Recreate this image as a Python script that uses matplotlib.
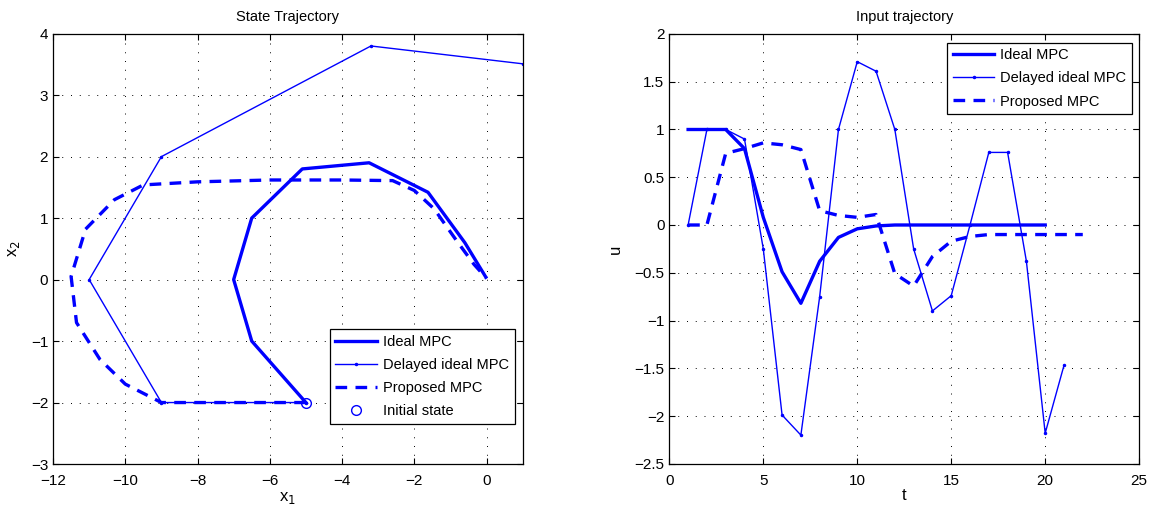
import matplotlib
matplotlib.use("Agg")
import matplotlib.pyplot as plt
from matplotlib.ticker import MultipleLocator, FuncFormatter

plt.rcParams["font.family"] = ["Liberation Sans", "DejaVu Sans"]
plt.rcParams["font.size"] = 11

BLUE = (0, 0, 1)

# ---- State trajectory data (x1, x2) ----
ideal_x1 = [-5.0, -6.5, -7.0, -6.5, -5.1, -3.25, -1.62, -0.6, -0.02]
ideal_x2 = [-2.0, -1.0, 0.0, 1.0, 1.8, 1.9, 1.42, 0.6, 0.04]

delayed_x1 = [-5.0, -9.0, -11.0, -9.0, -3.2, 1.0]
delayed_x2 = [-2.0, -2.0, 0.0, 2.0, 3.8, 3.51]

proposed_x1 = [-5.0, -9.0, -10.0, -10.7, -11.35, -11.5, -11.1, -10.3, -9.5,
               -8.0, -6.0, -4.0, -2.6, -2.0, -1.45, -0.85, -0.35, 0.0]
proposed_x2 = [-2.0, -2.0, -1.7, -1.3, -0.7, 0.05, 0.82, 1.3, 1.54,
               1.59, 1.62, 1.62, 1.61, 1.45, 1.15, 0.65, 0.25, 0.02]

init_x1 = [-5.0]
init_x2 = [-2.0]

# ---- Input trajectory data (t, u) ----
t_ideal = list(range(1, 21))
u_ideal = [1.0, 1.0, 1.0, 0.8, 0.08, -0.49, -0.82, -0.38, -0.13, -0.04,
           -0.01, 0.0, 0.0, 0.0, 0.0, 0.0, 0.0, 0.0, 0.0, 0.0]

t_delayed = list(range(1, 22))
u_delayed = [0.0, 1.0, 1.0, 0.9, -0.25, -1.99, -2.2, -0.75, 1.0, 1.71,
             1.61, 1.0, -0.25, -0.9, -0.74, 0.0, 0.76, 0.76, -0.38, -2.18,
             -1.47]

t_proposed = list(range(1, 23))
u_proposed = [0.0, 0.0, 0.75, 0.8, 0.86, 0.84, 0.79, 0.15, 0.1, 0.08,
              0.11, -0.51, -0.64, -0.33, -0.17, -0.12, -0.1, -0.1, -0.1,
              -0.1, -0.1, -0.1]

THICK = 2.4
DASH = (0, (3.5, 2.5))

fig = plt.figure(figsize=(11.53, 5.15), dpi=100)
ax1 = fig.add_axes([0.046, 0.099, 0.4073, 0.8356])
ax2 = fig.add_axes([0.5805, 0.0995, 0.4075, 0.8345])

short_fmt = FuncFormatter(lambda v, p: ("%g" % v).replace("-", "\u2212"))


def style_axes(ax):
    ax.grid(True, linestyle=(0, (1, 8)), color="black", linewidth=0.7)
    ax.tick_params(direction="in", top=True, right=True, length=4,
                   width=0.8, labelsize=11)
    ax.tick_params(axis="x", pad=7.5)
    for s in ax.spines.values():
        s.set_linewidth(0.9)
    ax.set_axisbelow(True)
    ax.xaxis.set_major_formatter(short_fmt)
    ax.yaxis.set_major_formatter(short_fmt)


def style_legend(leg):
    leg.get_frame().set_linewidth(0.9)


legend_kw = dict(fontsize=10.5, handlelength=2.85, handletextpad=0.4,
                 borderpad=0.4, labelspacing=0.62, fancybox=False,
                 framealpha=1, edgecolor="black", borderaxespad=0)

# State trajectory
ax1.plot(ideal_x1, ideal_x2, color=BLUE, lw=THICK, label="Ideal MPC")
ax1.plot(delayed_x1, delayed_x2, color=BLUE, lw=1.0, marker=".",
         markersize=3, label="Delayed ideal MPC")
ax1.plot(proposed_x1, proposed_x2, color=BLUE, lw=THICK,
         linestyle=DASH, label="Proposed MPC")
ax1.plot(init_x1, init_x2, linestyle="none", marker="o", markersize=7,
         markerfacecolor="none", markeredgecolor=BLUE, markeredgewidth=1.0,
         label="Initial state")
ax1.set_xlim(-12, 1)
ax1.set_ylim(-3, 4)
ax1.xaxis.set_major_locator(MultipleLocator(2))
ax1.yaxis.set_major_locator(MultipleLocator(1))
ax1.set_title("State Trajectory", fontsize=10.5, pad=9)
ax1.set_xlabel("x$_1$", fontsize=12, labelpad=1)
ax1.set_ylabel("x$_2$", fontsize=12, labelpad=6)
style_axes(ax1)
leg1 = ax1.legend(loc="lower right", bbox_to_anchor=(0.983, 0.093),
                  **legend_kw)
style_legend(leg1)

# Input trajectory
ax2.plot(t_ideal, u_ideal, color=BLUE, lw=THICK, label="Ideal MPC")
ax2.plot(t_delayed, u_delayed, color=BLUE, lw=1.0, marker=".",
         markersize=3, label="Delayed ideal MPC")
ax2.plot(t_proposed, u_proposed, color=BLUE, lw=THICK,
         linestyle=DASH, label="Proposed MPC")
ax2.set_xlim(0, 25)
ax2.set_ylim(-2.5, 2)
ax2.xaxis.set_major_locator(MultipleLocator(5))
ax2.yaxis.set_major_locator(MultipleLocator(0.5))
ax2.set_title("Input trajectory", fontsize=10.5, pad=9)
ax2.set_xlabel("t", fontsize=12, labelpad=0)
ax2.set_ylabel("u", fontsize=12, labelpad=8)
style_axes(ax2)
leg2 = ax2.legend(loc="upper right", bbox_to_anchor=(0.985, 0.98),
                  **legend_kw)
style_legend(leg2)

fig.savefig("out.png", dpi=100)
